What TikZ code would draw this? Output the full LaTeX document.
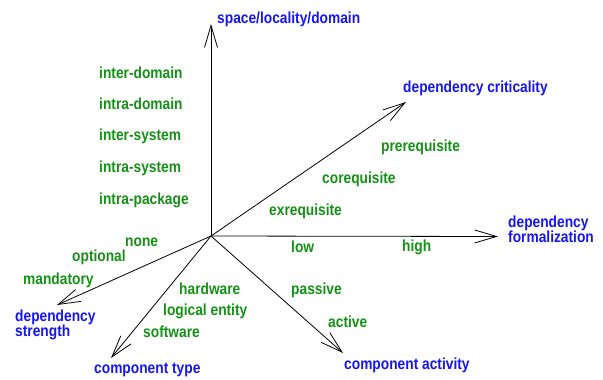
\documentclass[tikz,border=0pt]{standalone}
\usepackage{fontspec}
\setmainfont{Liberation Sans}[FakeStretch=0.86]
\usetikzlibrary{arrows.meta}
\definecolor{axblue}{RGB}{20,20,245}
\definecolor{valgreen}{RGB}{20,145,20}
\tikzset{
  axis/.style={draw=black, line width=0.8pt, -{Straight Barb[length=22pt,width=13pt,line width=0.8pt]}},
  axlabel/.style={text=axblue, font=\bfseries\fontsize{16}{15}\selectfont, anchor=west, inner sep=0pt, align=left},
  val/.style={text=valgreen, font=\bfseries\fontsize{16}{15}\selectfont, anchor=west, inner sep=0pt},
}
\begin{document}
\begin{tikzpicture}[x=1pt,y=-1pt]
\useasboundingbox (0,0) rectangle (603,380);
\coordinate (O) at (211,236);
\coordinate (tUp) at (211,24);
\coordinate (tCrit) at (406,102);
\coordinate (tForm) at (498,236.5);
\coordinate (tStr) at (57,305);
\coordinate (tType) at (111,358);
\coordinate (tAct) at (343,353);
\draw[axis] (O) -- (tUp);
\draw[axis] (O) -- (tCrit);
\draw[axis] (O) -- (tForm);
\draw[axis] (O) -- (tStr);
\draw[axis] (O) -- (tType);
\draw[axis] (O) -- (tAct);
% axis labels
\node[axlabel] (lUp) at (217,19) {space/locality/domain};
\node[axlabel] (lCrit) at (403,88) {dependency criticality};
\node[axlabel] (lForm) at (508,229) {dependency\\formalization};
\node[axlabel] (lStr) at (15,324.5) {dependency\\strength};
\node[axlabel] (lType) at (94,370) {component type};
\node[axlabel] (lAct) at (344,365) {component activity};
% values
\node[val] (v1) at (99,73) {inter-domain};
\node[val] (v2) at (99,104) {intra-domain};
\node[val] (v3) at (99,136) {inter-system};
\node[val] (v4) at (99,168) {intra-system};
\node[val] (v5) at (99,200) {intra-package};
\node[val] (c1) at (381,147) {prerequisite};
\node[val] (c2) at (322,179) {corequisite};
\node[val] (c3) at (269,211) {exrequisite};
\node[val] (f1) at (291,247) {low};
\node[val] (f2) at (402,247) {high};
\node[val] (a1) at (291,290) {passive};
\node[val] (a2) at (328,322) {active};
\node[val] (s1) at (125,242) {none};
\node[val] (s2) at (72,257) {optional};
\node[val] (s3) at (23,280) {mandatory};
\node[val] (t1) at (179,289) {hardware};
\node[val] (t2) at (163,311) {logical entity};
\node[val] (t3) at (143,332) {software};
\end{tikzpicture}
\end{document}
